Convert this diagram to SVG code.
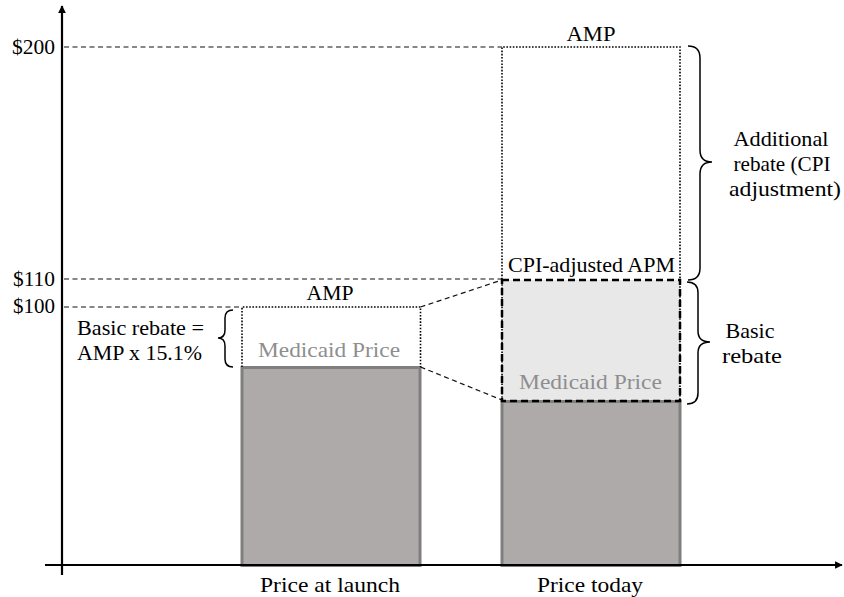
<svg xmlns="http://www.w3.org/2000/svg" width="844" height="597" viewBox="0 0 844 597">
<style>
text{font-family:"Liberation Serif","Times New Roman",serif;font-size:21.5px;fill:#000}
.gray{fill:#8e8e8e}
.mid{text-anchor:middle}
.end{text-anchor:end}
.bar{fill:#aeaaaa;stroke:#7f7f7f;stroke-width:3}
.dot{fill:none;stroke:#000;stroke-width:1.6;stroke-dasharray:1.6 1.6}
.guide{fill:none;stroke:#111;stroke-width:1.2;stroke-dasharray:5 3.5}
.brace{fill:none;stroke:#000;stroke-width:1.5}
.axis{stroke:#000;stroke-width:2.2;fill:none}
</style>
<defs>
<marker id="arr" viewBox="0 0 10 10" refX="9" refY="5" markerWidth="3.5" markerHeight="3.5" orient="auto">
<path d="M0,0 L10,5 L0,10 z" fill="#000"/>
</marker>
</defs>
<rect width="844" height="597" fill="#fff"/>

<g id="guides">
<line class="guide" x1="64" y1="47" x2="502" y2="47"/>
<line class="guide" x1="64" y1="279" x2="502" y2="279"/>
<line class="guide" x1="64" y1="307" x2="242" y2="307"/>
</g>

<g id="bar-launch">
<rect class="bar" x="242" y="367.5" width="178" height="198"/>
<path class="dot" d="M242,367 V307 H420.5 V367"/>
<text class="mid" x="330" y="300" textLength="47" lengthAdjust="spacingAndGlyphs">AMP</text>
<text class="mid gray" x="329" y="357" textLength="142" lengthAdjust="spacingAndGlyphs">Medicaid Price</text>
</g>

<g id="bar-today">
<rect x="502" y="280" width="178" height="121" fill="#e8e8e8"/>
<rect class="bar" x="502" y="401.5" width="178" height="164"/>
<path class="dot" d="M502,401 V47 H680 V401"/>
<rect x="502" y="280" width="178" height="121" fill="none" stroke="#000" stroke-width="2.5" stroke-dasharray="7 4"/>
<text class="mid" x="591" y="41" textLength="49" lengthAdjust="spacingAndGlyphs">AMP</text>
<text class="mid" x="591.5" y="272" textLength="167" lengthAdjust="spacingAndGlyphs">CPI-adjusted APM</text>
<text class="mid gray" x="590.5" y="389" textLength="143" lengthAdjust="spacingAndGlyphs">Medicaid Price</text>
</g>

<g id="connectors">
<line class="guide" x1="420.5" y1="307" x2="502" y2="280"/>
<line class="guide" x1="420.5" y1="367" x2="502" y2="400"/>
</g>

<g id="axes">
<line class="axis" x1="62" y1="575" x2="62" y2="6" marker-end="url(#arr)"/>
<line class="axis" x1="45" y1="565" x2="842" y2="565" marker-end="url(#arr)"/>
<text class="end" x="55" y="54" textLength="43" lengthAdjust="spacingAndGlyphs">$200</text>
<text class="end" x="55" y="286" textLength="42" lengthAdjust="spacingAndGlyphs">$110</text>
<text class="end" x="55" y="313" textLength="42" lengthAdjust="spacingAndGlyphs">$100</text>
<text class="mid" x="330" y="592" textLength="140" lengthAdjust="spacingAndGlyphs">Price at launch</text>
<text class="mid" x="590" y="592" textLength="106" lengthAdjust="spacingAndGlyphs">Price today</text>
</g>

<g id="brace-basic-launch">
<path class="brace" d="M233,310 Q225,310 225,318 L225,330 Q225,338 218,338 Q225,338 225,346 L225,359 Q225,367 233,367"/>
<text x="77" y="335" textLength="127" lengthAdjust="spacingAndGlyphs">Basic rebate =</text>
<text x="77" y="360" textLength="125" lengthAdjust="spacingAndGlyphs">AMP x 15.1%</text>
</g>

<g id="brace-additional">
<path class="brace" d="M688,46 Q700,46 700,58 L700,150 Q700,162 712,162 Q700,162 700,174 L700,268 Q700,280 688,280"/>
<text class="mid" x="781" y="146" textLength="95" lengthAdjust="spacingAndGlyphs">Additional</text>
<text class="mid" x="782" y="171" textLength="97" lengthAdjust="spacingAndGlyphs">rebate (CPI</text>
<text class="mid" x="785" y="196" textLength="112" lengthAdjust="spacingAndGlyphs">adjustment)</text>
</g>

<g id="brace-basic-today">
<path class="brace" d="M687,282 Q698,282 698,293 L698,331 Q698,342 710,342 Q698,342 698,353 L698,393 Q698,404 687,404"/>
<text class="mid" x="750" y="338" textLength="49" lengthAdjust="spacingAndGlyphs">Basic</text>
<text class="mid" x="752" y="363" textLength="60" lengthAdjust="spacingAndGlyphs">rebate</text>
</g>
</svg>
